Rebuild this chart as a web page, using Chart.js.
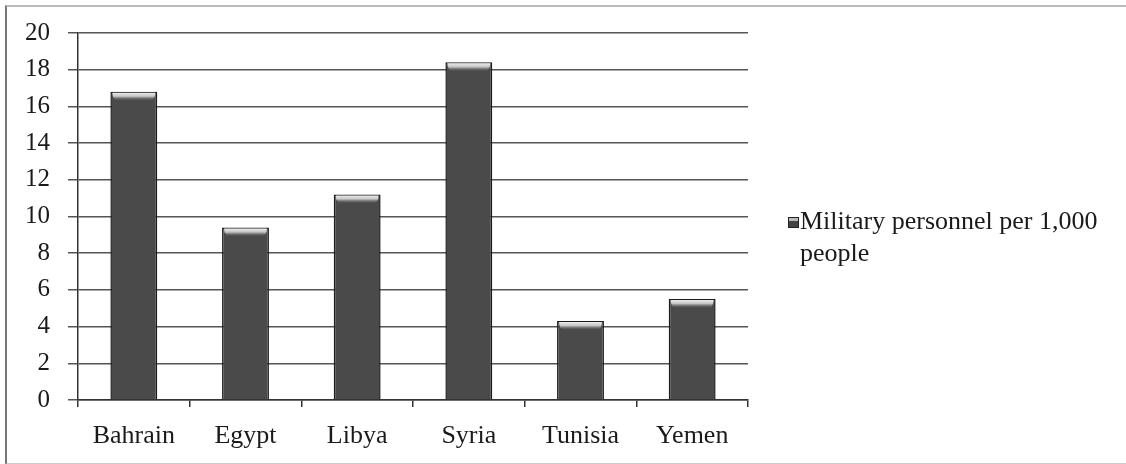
<!DOCTYPE html>
<html>
<head>
<meta charset="utf-8">
<script src="https://cdn.jsdelivr.net/npm/chart.js@4"></script>
<style>
  html, body { margin: 0; padding: 0; background: #fff; }
  #wrap { position: relative; width: 1126px; height: 464px; overflow: hidden; }
  #frame {
    position: absolute; left: 5px; top: 5px; width: 1140px; height: 456px;
    border-left: 2px solid #777; border-top: 2px solid #bbb; border-bottom: 2px solid #ccc;
  }
  #chart { position: absolute; left: 0; top: 0; }
  #legend {
    position: absolute; left: 800px; top: 205px; width: 326px;
    font-family: "Liberation Serif", "DejaVu Serif", serif; font-size: 26px;
    line-height: 32px; color: #1a1a1a;
  }
  #legend .box {
    position: absolute; left: -12px; top: 12px; width: 9px; height: 9px; background: #444;
    border: 1px solid #222; box-shadow: inset 0 3px 0 #bbb;
  }
</style>
</head>
<body>
<div id="wrap">
  <div id="frame"></div>
  <canvas id="chart" width="1126" height="464"></canvas>
  <div id="legend"><span class="box"></span>Military personnel per 1,000<br>people</div>
</div>
<script>
// Military personnel per 1,000 people
const countries = ['Bahrain', 'Egypt', 'Libya', 'Syria', 'Tunisia', 'Yemen'];
const personnel = [16.8, 9.4, 11.2, 18.4, 4.3, 5.5];
const yTicks = [0, 2, 4, 6, 8, 10, 12, 14, 16, 18, 20];

const serif = '"Liberation Serif", "DejaVu Serif", serif';

// light cap on top of each bar, like the cylinder shape in the original
const cylinderCap = {
    id: 'cylinderCap',
    afterDatasetsDraw(chart) {
        const ctx = chart.ctx;
        chart.getDatasetMeta(0).data.forEach(function(bar) {
            const half = bar.width / 2;
            const left = bar.x - half + 2;
            const right = bar.x + half - 2;
            const top = bar.y + 1;
            const g = ctx.createLinearGradient(0, top, 0, top + 8);
            g.addColorStop(0, '#ececec');
            g.addColorStop(0.45, '#c4c4c4');
            g.addColorStop(1, 'rgba(90,90,90,0)');
            ctx.save();
            ctx.fillStyle = g;
            ctx.beginPath();
            ctx.moveTo(left, top);
            ctx.lineTo(right, top);
            ctx.quadraticCurveTo(right, top + 7, right - 5, top + 8);
            ctx.lineTo(left + 5, top + 8);
            ctx.quadraticCurveTo(left, top + 7, left, top);
            ctx.fill();
            ctx.restore();
        });
    }
};

const ctx = document.getElementById('chart');

new Chart(ctx, {
    type: 'bar',
    data: {
        labels: countries,
        datasets: [{
            label: 'Military personnel per 1,000 people',
            data: personnel,
            backgroundColor: '#4a4a4a',
            borderColor: '#1c1c1c',
            borderWidth: 1.5,
            categoryPercentage: 0.84,
            barPercentage: 0.5
        }]
    },
    options: {
        responsive: false,
        animation: false,
        layout: {
            padding: { left: 10, right: 378, top: 30, bottom: 0 }
        },
        plugins: {
            legend: { display: false },
            tooltip: { enabled: false }
        },
        scales: {
            x: {
                grid: {
                    offset: true,
                    drawOnChartArea: false,
                    drawTicks: true,
                    tickLength: 7,
                    color: '#333',
                    lineWidth: 1.5
                },
                border: { color: '#333', width: 1.5 },
                ticks: {
                    color: '#1a1a1a',
                    font: { family: serif, size: 26 },
                    padding: 14
                },
                afterFit: function(scale) { scale.height = 64; }
            },
            y: {
                min: 0,
                max: 20,
                afterBuildTicks: function(scale) {
                    scale.ticks = yTicks.map(function(v) { return { value: v }; });
                },
                grid: {
                    color: '#555',
                    lineWidth: 1.5,
                    tickLength: 10
                },
                border: { color: '#333', width: 1.5 },
                ticks: {
                    color: '#1a1a1a',
                    font: { family: serif, size: 25 },
                    padding: 18
                },
                afterFit: function(scale) { scale.width = 68; }
            }
        }
    },
    plugins: [cylinderCap]
});
</script>
</body>
</html>
